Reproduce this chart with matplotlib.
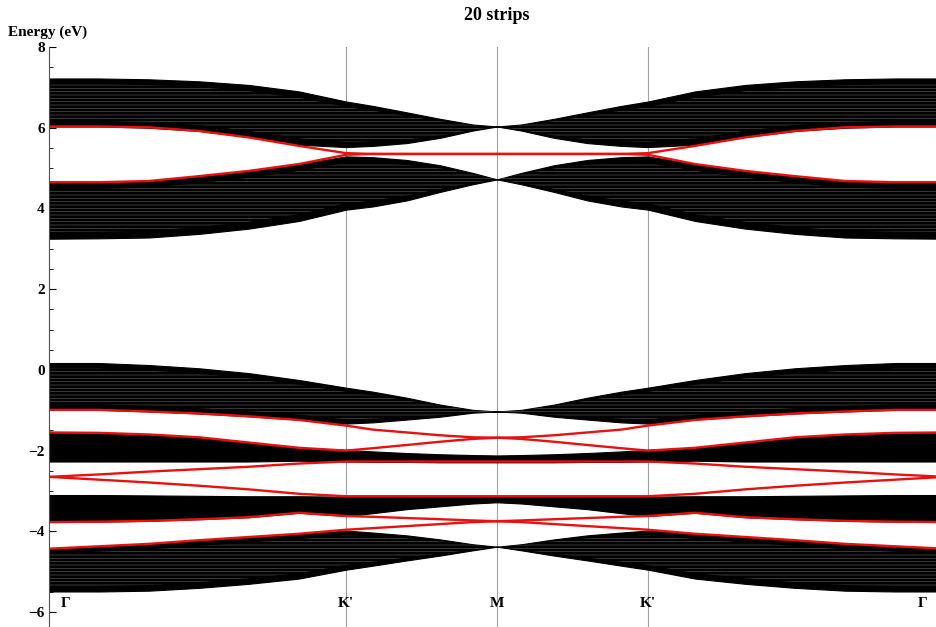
import numpy as np
import matplotlib.pyplot as plt

plt.rcParams['font.family'] = ['Liberation Serif', 'DejaVu Serif']
plt.rcParams['font.weight'] = 'bold'
plt.rcParams['hatch.linewidth'] = 0.5

# k path from Gamma (0) to M (1); the second half mirrors back to Gamma
k_half = [0.0, 0.112, 0.223, 0.335, 0.446, 0.558, 0.663, 0.723, 0.799, 0.873, 0.946, 1.0]
k_sym = [0.0, 0.663, 1.0, 1.337, 2.0]
k_names = ['Γ', "K'", 'M', "K'", 'Γ']

# band envelopes (eV) along Gamma -> K' -> M
# upper group, top fan
up1_top = [7.22, 7.22, 7.20, 7.15, 7.06, 6.90, 6.65, 6.54, 6.38, 6.22, 6.08, 6.03]
up1_bot = [6.03, 6.03, 6.00, 5.92, 5.77, 5.58, 5.52, 5.55, 5.62, 5.75, 5.93, 6.03]
# upper group, lower fan
up2_top = [4.65, 4.65, 4.68, 4.80, 4.93, 5.10, 5.29, 5.27, 5.20, 5.07, 4.88, 4.72]
up2_bot = [3.25, 3.26, 3.28, 3.37, 3.50, 3.69, 3.97, 4.05, 4.20, 4.41, 4.60, 4.72]
# lower group, four fans
lo1_top = [0.17, 0.17, 0.12, 0.04, -0.08, -0.25, -0.44, -0.54, -0.69, -0.86, -0.99, -1.03]
lo1_bot = [-0.99, -0.99, -1.03, -1.08, -1.15, -1.23, -1.33, -1.30, -1.23, -1.16, -1.06, -1.03]
lo2_top = [-1.55, -1.56, -1.60, -1.67, -1.80, -1.93, -1.98, -2.02, -2.06, -2.09, -2.11, -2.12]
lo2_bot = [-2.27, -2.27, -2.27, -2.27, -2.27, -2.25, -2.27, -2.28, -2.28, -2.29, -2.29, -2.29]
lo3_top = [-3.10, -3.10, -3.11, -3.12, -3.13, -3.13, -3.14, -3.14, -3.14, -3.15, -3.15, -3.15]
lo3_bot = [-3.77, -3.76, -3.74, -3.70, -3.65, -3.54, -3.62, -3.55, -3.45, -3.38, -3.31, -3.28]
lo4_top = [-4.43, -4.37, -4.31, -4.22, -4.14, -4.06, -3.98, -4.03, -4.10, -4.20, -4.32, -4.38]
lo4_bot = [-5.49, -5.49, -5.47, -5.40, -5.30, -5.17, -4.95, -4.85, -4.72, -4.60, -4.47, -4.38]

# edge states (red)
edge_1 = [6.03, 6.03, 6.01, 5.92, 5.76, 5.55, 5.37, 5.35, 5.35, 5.35, 5.35, 5.35]
edge_2 = [4.65, 4.65, 4.68, 4.80, 4.93, 5.10, 5.33, 5.35, 5.35, 5.35, 5.35, 5.35]
edge_3 = [-0.99, -0.99, -1.03, -1.08, -1.15, -1.24, -1.38, -1.48, -1.55, -1.62, -1.67, -1.68]
edge_4 = [-1.55, -1.56, -1.60, -1.67, -1.80, -1.93, -2.00, -1.94, -1.86, -1.78, -1.71, -1.68]
edge_5 = [-2.65, -2.59, -2.52, -2.46, -2.40, -2.32, -2.27, -2.27, -2.27, -2.27, -2.27, -2.27]
edge_6 = [-2.65, -2.72, -2.79, -2.87, -2.96, -3.07, -3.13, -3.13, -3.13, -3.13, -3.13, -3.13]
edge_7 = [-3.77, -3.76, -3.74, -3.70, -3.65, -3.54, -3.62, -3.64, -3.67, -3.70, -3.73, -3.75]
edge_8 = [-4.43, -4.37, -4.31, -4.22, -4.14, -4.06, -3.96, -3.92, -3.87, -3.82, -3.77, -3.75]

bands = [(up1_top, up1_bot), (up2_top, up2_bot), (lo1_top, lo1_bot),
         (lo2_top, lo2_bot), (lo3_top, lo3_bot), (lo4_top, lo4_bot)]
striped = [True, True, True, False, False, True]
edges = [edge_1, edge_2, edge_3, edge_4, edge_5, edge_6, edge_7, edge_8]


def full_path(vals):
    v = np.asarray(vals, dtype=float)
    return np.concatenate([v, v[::-1][1:]])


k = np.asarray(k_half)
k_full = np.concatenate([k, 2.0 - k[::-1][1:]])

fig = plt.figure(figsize=(9.37, 6.27), dpi=100)
ax = fig.add_axes([49 / 937, 0.0, 1 - 49 / 937, 1 - 47 / 627])

for xv in k_sym[1:4]:
    ax.axvline(xv, color='#a0a0a0', lw=0.8, zorder=1)

for (top, bot), stripe in zip(bands, striped):
    lo, hi = full_path(bot), full_path(top)
    ax.fill_between(k_full, lo, hi, color='black', lw=0.8,
                    edgecolor='black', zorder=2)
    if stripe:
        # faint striping of the densely packed sub-bands
        w = hi - lo
        ax.fill_between(k_full, lo + 0.12 * w, hi - 0.12 * w,
                        facecolor='none', edgecolor='#505050', hatch='-----',
                        lw=0, zorder=2.5)

for e in edges:
    ax.plot(k_full, full_path(e), color='#e8110f', lw=1.7, zorder=3)

for xv, name in zip(k_sym, k_names):
    if xv == 0.0:
        xv = 0.036
    elif xv == 2.0:
        xv = 1.949
    ax.text(xv, -5.8, name, ha='center', va='center', fontsize=11,
            fontweight='bold')

ax.set_xlim(0, 1.982)
ax.set_ylim(-6.37, 8.0)
ax.set_yticks(np.arange(-6, 9, 2))
ax.set_yticks(np.arange(-6, 8.5, 0.5), minor=True)
ax.set_yticklabels(['−6', '−4', '−2', '0', '2', '4', '6', '8'])
ax.tick_params(axis='y', which='major', direction='in', length=5, width=0.8,
               labelsize=11, pad=3)
ax.tick_params(axis='y', which='minor', direction='in', length=3, width=0.6)
ax.set_xticks([])
for side in ['top', 'right', 'bottom']:
    ax.spines[side].set_visible(False)
ax.spines['left'].set_color('#505050')
ax.spines['left'].set_linewidth(0.8)

fig.text(497 / 937, 1 - 15 / 627, '20 strips', ha='center', va='center',
         fontsize=13, fontweight='bold')
fig.text(8 / 937, 1 - 32 / 627, 'Energy (eV)', ha='left', va='center',
         fontsize=11, fontweight='bold')

fig.savefig('out.png', dpi=100)
